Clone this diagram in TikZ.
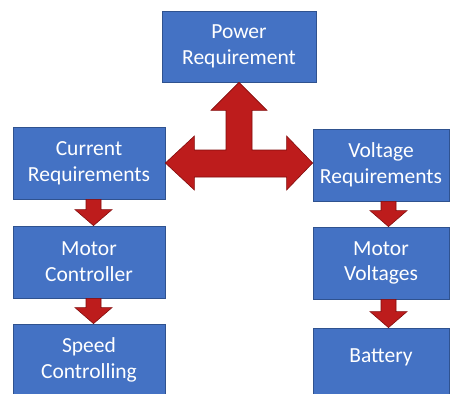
\documentclass[tikz,border=0pt]{standalone}
\usepackage{fontspec}
\setmainfont{Carlito}
\usetikzlibrary{calc}
\definecolor{boxfill}{RGB}{68,114,196}
\definecolor{boxline}{RGB}{47,82,143}
\definecolor{arrfill}{RGB}{189,28,28}
\definecolor{arrline}{RGB}{130,12,12}
\tikzset{
  box/.style={draw=boxline, fill=boxfill, line width=0.8pt, inner sep=0pt,
    text=white, align=center, font=\fontsize{21.5}{25.8}\selectfont},
  lbl/.style={text=white, align=center, inner sep=0pt, font=\fontsize{21.5}{25.8}\selectfont},
  arr/.style={fill=arrfill, draw=arrline, line width=0.6pt, line join=miter}
}
\newcommand{\dnarrow}[3]{%
  \coordinate (a) at ([xshift=#3]#1.south);
  \coordinate (t) at (a |- #2.north);
  \coordinate (h) at ([yshift=16pt]t);
  \coordinate (b) at (a |- h);
  \draw[arr] ([xshift=-7.5pt]a) -- ([xshift=-7.5pt]b) -- ([xshift=-18.5pt]h) -- (t)
    -- ([xshift=18.5pt]h) -- ([xshift=7.5pt]b) -- ([xshift=7.5pt]a) -- cycle;
}
\begin{document}
\begin{tikzpicture}[x=1pt,y=-1pt]
\useasboundingbox (0,0) rectangle (451,394);
\fill[white] (0,0) rectangle (451,394);
\clip (0,0) rectangle (451,394);
% boxes
\node[box, minimum width=154pt, minimum height=71pt] (pw) at (239,46.5) {Power\\Requirement};
\node[box, minimum width=152pt, minimum height=72pt] (cur) at (89,163) {Current\\Requirements};
\node[box, minimum width=152pt, minimum height=72pt] (mc) at (89,262) {Motor\\Controller};
\node[box, minimum width=152pt, minimum height=72pt] (sp) at (89,360) {Speed\\Controlling};
\node[box, minimum width=136pt, minimum height=72pt] (vr) at (381,165) {Voltage\\Requirements};
\node[box, minimum width=136pt, minimum height=72pt] (mv) at (381,263) {Motor\\Voltages};
\node[box, minimum width=136pt, minimum height=72pt] (bat) at (381,364) {};
\node[lbl] (batlbl) at ([yshift=7pt]bat.center) {Battery};
% three-way arrow
\coordinate (top) at (pw.south);
\coordinate (hub) at (top |- cur.east);
\coordinate (lt) at (cur.east);
\coordinate (rt) at (vr.west |- hub);
\draw[arr]
  (top) -- ([shift={(28,28)}]top) -- ([shift={(13,28)}]top)
  -- ([shift={(13,-13)}]hub) -- ([shift={(-26,-13)}]rt) -- ([shift={(-26,-27)}]rt)
  -- (rt) -- ([shift={(-26,27)}]rt) -- ([shift={(-26,14)}]rt)
  -- ([shift={(29,14)}]lt) -- ([shift={(29,27)}]lt) -- (lt)
  -- ([shift={(29,-27)}]lt) -- ([shift={(29,-13)}]lt)
  -- ([shift={(-13,-13)}]hub) -- ([shift={(-13,28)}]top) -- ([shift={(-28,28)}]top) -- cycle;
% small arrows
\dnarrow{cur}{mc}{4.5pt}
\dnarrow{mc}{sp}{4.5pt}
\dnarrow{vr}{mv}{7.5pt}
\dnarrow{mv}{bat}{7.5pt}
\end{tikzpicture}
\end{document}
